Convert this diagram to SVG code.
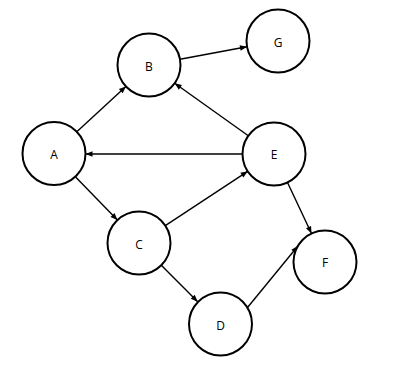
<svg xmlns="http://www.w3.org/2000/svg" width="400" height="366" viewBox="0 0 400 366">
<style>
.n circle{fill:#fff;stroke:#000;stroke-width:2}
.n text{font-family:"Open Sans","DejaVu Sans",sans-serif;font-size:12px;fill:#000;text-anchor:middle;dominant-baseline:central}
.e line{stroke:#000;stroke-width:1.4;marker-end:url(#ah)}
</style>
<defs>
<marker id="ah" markerUnits="userSpaceOnUse" markerWidth="10" markerHeight="10" viewBox="0 0 10 10" refX="9" refY="5" orient="auto">
<path d="M2,2.2 L9,5 L2,7.8 z" fill="#000"/>
</marker>
</defs>
<g id="edges" class="e">
<line x1="77.1" y1="131.6" x2="125.9" y2="86.4"/>
<line x1="180" y1="59.2" x2="247" y2="46.8"/>
<line x1="248.3" y1="135.7" x2="174.7" y2="83.3"/>
<line x1="242.5" y1="154" x2="85.5" y2="154"/>
<line x1="75.6" y1="176.9" x2="117.4" y2="220.1"/>
<line x1="165.3" y1="225.7" x2="247.7" y2="171.3"/>
<line x1="287.5" y1="182.5" x2="311.5" y2="233.5"/>
<line x1="161.3" y1="265.3" x2="197.7" y2="301.7"/>
<line x1="247.1" y1="308" x2="297.9" y2="246"/>
</g>
<g id="A" class="n"><circle cx="54" cy="153.5" r="31.5"/><text x="54" y="154">A</text></g>
<g id="B" class="n"><circle cx="149" cy="65" r="31.5"/><text x="149" y="66">B</text></g>
<g id="G" class="n"><circle cx="278" cy="41" r="31.5"/><text x="278" y="42">G</text></g>
<g id="E" class="n"><circle cx="274" cy="154" r="31.5"/><text x="274" y="154">E</text></g>
<g id="C" class="n"><circle cx="139" cy="243" r="31.5"/><text x="139" y="244">C</text></g>
<g id="D" class="n"><circle cx="220.5" cy="324" r="31.5"/><text x="220.5" y="325">D</text></g>
<g id="F" class="n"><circle cx="325" cy="262" r="31.5"/><text x="325" y="262">F</text></g>
</svg>
